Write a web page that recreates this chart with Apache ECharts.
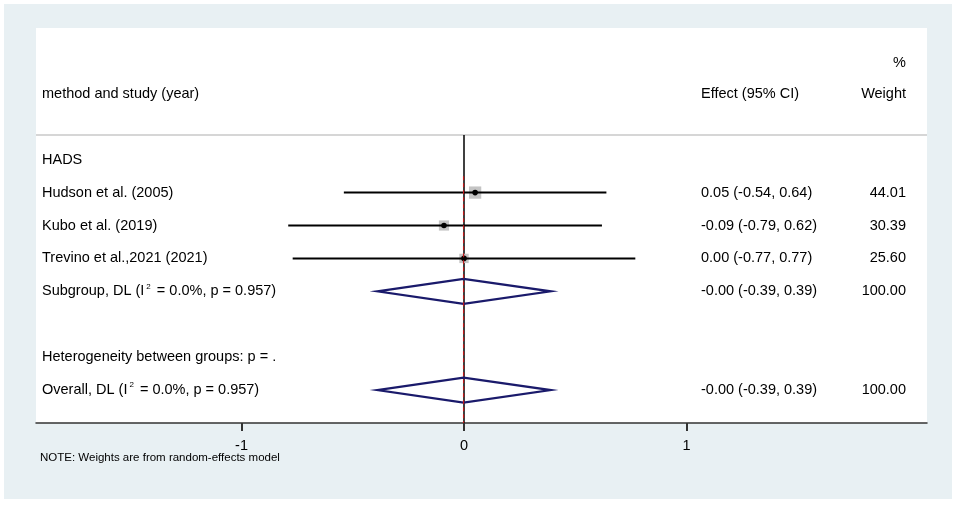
<!DOCTYPE html>
<html>
<head>
<meta charset="utf-8">
<title>Forest plot</title>
<script src="https://cdn.jsdelivr.net/npm/echarts@6/dist/echarts.min.js"></script>
<style>
    html, body { margin: 0; padding: 0; background: #fff; }
    #chart { position: absolute; left: 4px; top: 4px; width: 948px; height: 495px; }
</style>
</head>
<body>
<div id="chart"></div>
<script>
    // 行标签 (row index = position from top)
    var rowLabels = [
        'HADS',
        'Hudson et al. (2005)',
        'Kubo et al. (2019)',
        'Trevino et al.,2021 (2021)',
        'Subgroup, DL (I{sup|2} = 0.0%, p = 0.957)',
        '',
        'Heterogeneity between groups: p = .',
        'Overall, DL (I{sup|2} = 0.0%, p = 0.957)'
    ];

    // studies
    var studyRows = [1, 2, 3];
    var studyEst = [0.05, -0.09, 0.00];
    var studyLow = [-0.54, -0.79, -0.77];
    var studyHigh = [0.64, 0.62, 0.77];
    var studyWeight = [44.01, 30.39, 25.60];

    // pooled estimates (subgroup, overall)
    var pooledRows = [4, 7];
    var pooledEst = [-0.002, -0.002];
    var pooledLow = [-0.39, -0.39];
    var pooledHigh = [0.39, 0.39];
    var pooledWeight = [100.00, 100.00];

    var tickValues = [-1, 0, 1];
    var headers = ['method and study (year)', 'Effect (95% CI)', '%', 'Weight'];
    var note = 'NOTE: Weights are from random-effects model';

    var FONT = '"Liberation Sans", Arial, sans-serif';
    var NAVY = '#1a1a6b';

    function ciText(e, l, h) {
        return e.toFixed(2) + ' (' + l.toFixed(2) + ', ' + h.toFixed(2) + ')';
    }

    // 每行右侧文字
    var effectByRow = {}, weightByRow = {};
    for (var i = 0; i < studyRows.length; i++) {
        effectByRow[studyRows[i]] = ciText(studyEst[i], studyLow[i], studyHigh[i]);
        weightByRow[studyRows[i]] = studyWeight[i].toFixed(2);
    }
    for (var j = 0; j < pooledRows.length; j++) {
        effectByRow[pooledRows[j]] = ciText(pooledEst[j], pooledLow[j], pooledHigh[j]);
        weightByRow[pooledRows[j]] = pooledWeight[j].toFixed(2);
    }

    var rowData = [];
    for (var r = 0; r < rowLabels.length; r++) {
        rowData.push([0, r]);
    }

    var studyData = [];
    for (var s = 0; s < studyRows.length; s++) {
        studyData.push([studyEst[s], studyRows[s], studyLow[s], studyHigh[s], studyWeight[s]]);
    }
    var pooledData = [];
    for (var p = 0; p < pooledRows.length; p++) {
        pooledData.push([pooledEst[p], pooledRows[p], pooledLow[p], pooledHigh[p]]);
    }

    var textStyle = function (txt, x, y, align, size) {
        return {
            text: txt,
            x: x,
            y: y,
            fill: '#000',
            fontSize: size || 14.5,
            fontFamily: FONT,
            lineHeight: 18,
            textAlign: align,
            textVerticalAlign: 'middle',
            rich: {
                sup: { fontSize: 8, fontFamily: FONT, lineHeight: 8, verticalAlign: 'top', padding: [0, 2, 0, 2] }
            }
        };
    };

    var option = {
        backgroundColor: '#e8f0f3',
        animation: false,
        grid: {
            left: 32,
            right: 25,
            top: 24,
            bottom: 76,
            show: true,
            backgroundColor: '#fff',
            borderWidth: 0
        },
        xAxis: {
            type: 'value',
            min: -1.9236,
            max: 2.0809,
            splitLine: { show: false },
            axisLine: {
                onZero: false,
                lineStyle: { color: '#333', width: 1.5 }
            },
            axisTick: {
                show: true,
                length: 8,
                customValues: tickValues,
                lineStyle: { color: '#333', width: 2 }
            },
            axisLabel: {
                customValues: tickValues,
                color: '#000',
                fontSize: 14.5,
                fontFamily: FONT,
                margin: 15
            }
        },
        yAxis: {
            type: 'value',
            min: -4,
            max: 8,
            inverse: true,
            show: false,
            axisLine: { onZero: false },
            splitLine: { show: false }
        },
        graphic: [{
            type: 'text',
            left: 36,
            top: 448,
            z: 10,
            style: {
                text: note,
                fill: '#000',
                fontSize: 11.5,
                fontFamily: FONT
            }
        }],
        series: [
            // 表头分隔线
            {
                type: 'line',
                data: [[-1.9236, -0.75], [2.0809, -0.75]],
                symbol: 'none',
                silent: true,
                lineStyle: { color: '#c8c8c8', width: 1.5 }
            },
            // 零线
            {
                type: 'line',
                data: [[0, -0.75], [0, 8]],
                symbol: 'none',
                silent: true,
                lineStyle: { color: '#000', width: 1.5 }
            },
            // 合并效应 虚线
            {
                type: 'line',
                data: [[pooledEst[1], 0.5], [pooledEst[1], 8]],
                symbol: 'none',
                silent: true,
                z: 6,
                lineStyle: { color: '#c0181a', width: 1.2, type: [4, 3] }
            },
            // 各研究 CI + 权重方块
            {
                type: 'custom',
                data: studyData,
                z: 4,
                renderItem: function (params, api) {
                    var c = api.coord([api.value(0), api.value(1)]);
                    var a = api.coord([api.value(2), api.value(1)]);
                    var b = api.coord([api.value(3), api.value(1)]);
                    var side = 1.85 * Math.sqrt(api.value(4));
                    return {
                        type: 'group',
                        children: [{
                            type: 'rect',
                            shape: { x: c[0] - side / 2, y: c[1] - side / 2, width: side, height: side },
                            style: { fill: '#c4c4c4' }
                        }, {
                            type: 'line',
                            shape: { x1: a[0], y1: a[1], x2: b[0], y2: b[1] },
                            style: { stroke: '#000', lineWidth: 2 }
                        }, {
                            type: 'circle',
                            shape: { cx: c[0], cy: c[1], r: 2.8 },
                            style: { fill: '#000' }
                        }]
                    };
                }
            },
            // 菱形
            {
                type: 'custom',
                data: pooledData,
                z: 4,
                renderItem: function (params, api) {
                    var row = api.value(1);
                    var pts = [
                        api.coord([api.value(2), row]),
                        api.coord([api.value(0), row - 0.38]),
                        api.coord([api.value(3), row]),
                        api.coord([api.value(0), row + 0.38])
                    ];
                    return {
                        type: 'polygon',
                        shape: { points: pts },
                        style: { fill: 'none', stroke: NAVY, lineWidth: 2.2 }
                    };
                }
            },
            // 文字列
            {
                type: 'custom',
                data: rowData,
                silent: true,
                renderItem: function (params, api) {
                    var r = api.value(1);
                    var y = api.coord([0, r])[1];
                    var cs = params.coordSys;
                    var kids = [{ type: 'text', style: textStyle(rowLabels[r], cs.x + 6, y, 'left') }];
                    if (effectByRow[r]) {
                        kids.push({ type: 'text', style: textStyle(effectByRow[r], cs.x + cs.width - 226, y, 'left') });
                        kids.push({ type: 'text', style: textStyle(weightByRow[r], cs.x + cs.width - 21, y, 'right') });
                    }
                    if (r === 0) {
                        var yh = api.coord([0, -2])[1];
                        var yp = api.coord([0, -2.94])[1];
                        kids.push({ type: 'text', style: textStyle(headers[0], cs.x + 6, yh, 'left') });
                        kids.push({ type: 'text', style: textStyle(headers[1], cs.x + cs.width - 226, yh, 'left') });
                        kids.push({ type: 'text', style: textStyle(headers[2], cs.x + cs.width - 21, yp, 'right') });
                        kids.push({ type: 'text', style: textStyle(headers[3], cs.x + cs.width - 21, yh, 'right') });
                    }
                    return { type: 'group', children: kids };
                }
            }
        ]
    };

    var chart = echarts.init(document.getElementById('chart'));
    chart.setOption(option);
</script>
</body>
</html>
